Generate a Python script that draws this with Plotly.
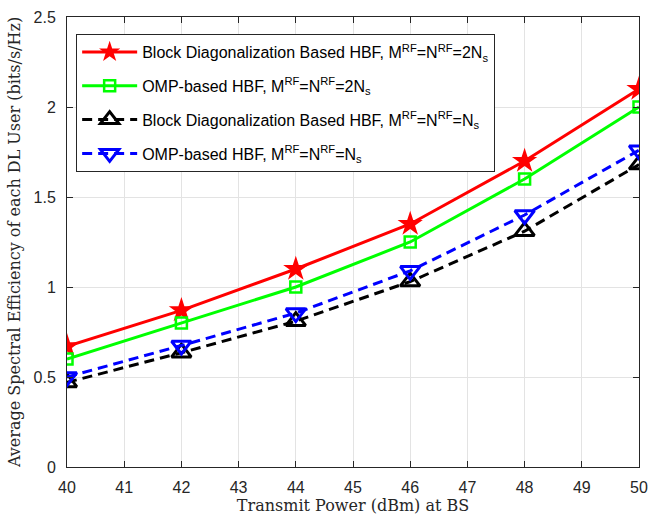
import plotly.graph_objects as go

x_power = [40, 42, 44, 46, 48, 50]
bd_2ns = [0.67, 0.87, 1.10, 1.35, 1.70, 2.10]
omp_2ns = [0.60, 0.80, 1.00, 1.25, 1.60, 2.00]
bd_ns = [0.47, 0.635, 0.81, 1.03, 1.31, 1.68]
omp_ns = [0.50, 0.675, 0.855, 1.09, 1.40, 1.76]

names = [
    "Block Diagonalization Based HBF, M<sup>RF</sup>=N<sup>RF</sup>=2N<sub>s</sub>",
    "OMP-based HBF, M<sup>RF</sup>=N<sup>RF</sup>=2N<sub>s</sub>",
    "Block Diagonalization Based HBF, M<sup>RF</sup>=N<sup>RF</sup>=N<sub>s</sub>",
    "OMP-based HBF, M<sup>RF</sup>=N<sup>RF</sup>=N<sub>s</sub>",
]

dash = "10px,6px"
fig = go.Figure()
fig.add_trace(go.Scatter(x=x_power, y=bd_2ns, name=names[0], mode="lines+markers", legendgroup="a",
                         line=dict(color="#ff0000", width=3),
                         marker=dict(symbol="star", size=19, color="#ff0000")))
fig.add_trace(go.Scatter(x=x_power, y=omp_2ns, name=names[1], mode="lines+markers", legendgroup="b",
                         line=dict(color="#00ff00", width=3),
                         marker=dict(symbol="square-open", size=11, color="#00ff00", line=dict(width=2.5))))
fig.add_trace(go.Scatter(x=x_power, y=bd_ns, name=names[2], mode="lines+markers", legendgroup="c",
                         line=dict(color="#000000", width=3, dash=dash),
                         marker=dict(symbol="triangle-up-open", size=17, color="#000000", line=dict(width=3))))
fig.add_trace(go.Scatter(x=x_power, y=omp_ns, name=names[3], mode="lines+markers", legendgroup="d",
                         line=dict(color="#0000ff", width=3, dash=dash),
                         marker=dict(symbol="triangle-down-open", size=17, color="#0000ff", line=dict(width=3))))

axis_common = dict(showgrid=True, gridcolor="#e3e3e3", gridwidth=1, showline=True, linecolor="#262626",
                   linewidth=1, mirror="ticks", ticks="inside", ticklen=6, tickcolor="#262626",
                   zeroline=False, automargin=False,
                   tickfont=dict(family="Liberation Sans, Arial", size=16, color="#262626"))

title_font = dict(family="DejaVu Serif, Liberation Serif", size=16, color="#262626")

fig.update_layout(
    width=650, height=520,
    margin=dict(l=67, r=11, t=17, b=53),
    plot_bgcolor="white", paper_bgcolor="white",
    xaxis=dict(range=[40, 50], dtick=1, ticklabelstandoff=6,
               title=dict(text="Transmit Power (dBm) at BS", standoff=4, font=title_font), **axis_common),
    yaxis=dict(range=[0, 2.5], dtick=0.5, ticklabelstandoff=7,
               title=dict(text="Average Spectral Efficiency of each DL User (bits/s/Hz)", standoff=8,
                          font=title_font), **axis_common),
    legend=dict(x=0.016, y=0.962, xanchor="left", yanchor="top", bgcolor="white", bordercolor="#262626",
                borderwidth=1, font=dict(family="Liberation Sans, Arial", size=16, color="#000000"),
                itemwidth=55, tracegroupgap=10),
    showlegend=True,
)
fig.write_html("out.html")
